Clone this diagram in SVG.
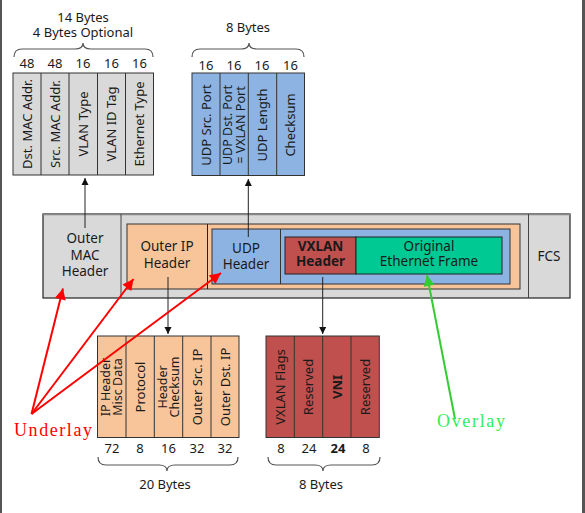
<svg xmlns="http://www.w3.org/2000/svg" width="585" height="513" viewBox="0 0 585 513">
  <style>
    text { font-family: "Noto Sans", "Open Sans", "DejaVu Sans", sans-serif; fill: #1a1a1a; }
    .lbl { font-size: 13.5px; text-anchor: middle; }
    .fld { font-size: 13px; text-anchor: middle; }
    .fld2 { font-size: 12.5px; text-anchor: middle; }
    .num { font-size: 13px; text-anchor: middle; }
    .b { font-weight: bold; }
    .cell { stroke: #333; stroke-width: 1; }
    .gray { fill: #d9d9d9; }
    .peach { fill: #f8c59a; }
    .blue { fill: #8db3e2; }
    .red { fill: #c0504d; }
    .green { fill: #00c994; }
    .brace { fill: none; stroke: #555; stroke-width: 1.2; }
    .conn { stroke: #222; stroke-width: 1; fill: none; }
    .under { stroke: #ff0000; stroke-width: 2; fill: none; }
    .over { stroke: #33cc33; stroke-width: 2; fill: none; }
    .tag { font-family: "Liberation Serif", "DejaVu Serif", serif; font-size: 18px; }
  </style>
  <defs>
    <marker id="arrBlack" viewBox="0 0 10 10" refX="10" refY="5" markerWidth="7" markerHeight="8" markerUnits="userSpaceOnUse" orient="auto">
      <path d="M0,0 L10,5 L0,10 z" fill="#111"/>
    </marker>
    <marker id="arrRed" viewBox="0 0 10 10" refX="10" refY="5" markerWidth="14" markerHeight="11" markerUnits="userSpaceOnUse" orient="auto">
      <path d="M0,0 L10,5 L0,10 z" fill="#ff0000"/>
    </marker>
    <marker id="arrGreen" viewBox="0 0 10 10" refX="10" refY="5" markerWidth="14" markerHeight="11" markerUnits="userSpaceOnUse" orient="auto">
      <path d="M0,0 L10,5 L0,10 z" fill="#33cc33"/>
    </marker>
  </defs>

  <rect width="585" height="513" fill="#fff"/>
  <!-- side borders -->
  <rect x="0" y="0" width="2" height="513" fill="#555"/>
  <rect x="582" y="0" width="3" height="513" fill="#555"/>

  <!-- encapsulated frame -->
  <g id="frame">
    <rect x="43" y="214" width="527" height="84" class="gray" stroke="#222" stroke-width="1.2"/>
    <line x1="43" y1="214.5" x2="570" y2="214.5" stroke="#888" stroke-width="1.5"/>
    <line x1="121" y1="214" x2="121" y2="298" stroke="#444" stroke-width="1"/>
    <line x1="528.5" y1="214" x2="528.5" y2="298" stroke="#444" stroke-width="1"/>
  </g>
  <g id="outer-mac-header">
    <text class="lbl" x="85" y="243">Outer</text>
    <text class="lbl" x="85" y="260">MAC</text>
    <text class="lbl" x="85" y="276">Header</text>
  </g>
  <g id="outer-ip-header">
    <rect x="127" y="224" width="393" height="65" class="peach" stroke="#333" stroke-width="1"/>
    <line x1="207.5" y1="224" x2="207.5" y2="289" stroke="#222" stroke-width="1"/>
    <text class="lbl" x="167" y="251">Outer IP</text>
    <text class="lbl" x="167" y="268">Header</text>
  </g>
  <g id="udp-header">
    <rect x="212" y="229" width="298" height="55" class="blue" stroke="#333" stroke-width="1"/>
    <line x1="280.5" y1="229" x2="280.5" y2="284" stroke="#333" stroke-width="1"/>
    <text class="lbl" x="246" y="253">UDP</text>
    <text class="lbl" x="246" y="269">Header</text>
  </g>
  <g id="vxlan-header">
    <rect x="285" y="237" width="71" height="37" class="red" stroke="#222" stroke-width="1"/>
    <text class="lbl b" x="320.5" y="251">VXLAN</text>
    <text class="lbl b" x="320.5" y="266">Header</text>
  </g>
  <g id="original-frame">
    <rect x="356" y="237" width="146" height="37" class="green" stroke="#222" stroke-width="1"/>
    <text class="lbl" x="429" y="251">Original</text>
    <text class="lbl" x="429" y="266">Ethernet Frame</text>
  </g>
  <g id="fcs">
    <text class="lbl" x="549" y="261">FCS</text>
  </g>

  <!-- outer MAC header fields -->
  <g id="mac-fields">
    <text class="num" x="83" y="22">14 Bytes</text>
    <text class="num" x="83" y="37">4 Bytes Optional</text>
    <path class="brace" d="M14,57 Q14,49 22,49 L75,49 Q83,49 83,43 Q83,49 91,49 L145,49 Q153,49 153,57"/>
    <text class="num" x="27" y="68">48</text>
    <text class="num" x="55" y="68">48</text>
    <text class="num" x="83" y="68">16</text>
    <text class="num" x="111.5" y="68">16</text>
    <text class="num" x="139.5" y="68">16</text>
    <rect x="13" y="73" width="140.5" height="102" class="gray cell"/>
    <line class="cell" x1="41" y1="73" x2="41" y2="175"/>
    <line class="cell" x1="69" y1="73" x2="69" y2="175"/>
    <line class="cell" x1="97.5" y1="73" x2="97.5" y2="175"/>
    <line class="cell" x1="125.5" y1="73" x2="125.5" y2="175"/>
    <text class="fld" transform="translate(27,124) rotate(-90)" y="4.5">Dst. MAC Addr.</text>
    <text class="fld" transform="translate(55,124) rotate(-90)" y="4.5">Src. MAC Addr.</text>
    <text class="fld" transform="translate(83,124) rotate(-90)" y="4.5">VLAN Type</text>
    <text class="fld" transform="translate(111.5,124) rotate(-90)" y="4.5">VLAN ID Tag</text>
    <text class="fld" transform="translate(139.5,124) rotate(-90)" y="4.5">Ethernet Type</text>
  </g>

  <!-- UDP header fields -->
  <g id="udp-fields">
    <text class="num" x="248" y="32">8 Bytes</text>
    <path class="brace" d="M192,57 Q192,49 200,49 L241,49 Q249,49 249,43 Q249,49 257,49 L296,49 Q304,49 304,57"/>
    <text class="num" x="206" y="70">16</text>
    <text class="num" x="234" y="70">16</text>
    <text class="num" x="262" y="70">16</text>
    <text class="num" x="290.5" y="70">16</text>
    <rect x="192" y="73" width="112.5" height="102.5" class="blue cell"/>
    <line class="cell" x1="220" y1="73" x2="220" y2="175.5"/>
    <line class="cell" x1="248.3" y1="73" x2="248.3" y2="175.5"/>
    <line class="cell" x1="276.7" y1="73" x2="276.7" y2="175.5"/>
    <text class="fld" transform="translate(206,125) rotate(-90)" y="4.5">UDP Src. Port</text>
    <text class="fld2" transform="translate(234,125) rotate(-90)"><tspan x="0" y="-2">UDP Dst. Port</tspan><tspan x="0" y="10.5">= VXLAN Port</tspan></text>
    <text class="fld" transform="translate(262,125) rotate(-90)" y="4.5">UDP Length</text>
    <text class="fld" transform="translate(290.5,125) rotate(-90)" y="4.5">Checksum</text>
  </g>

  <!-- outer IP header fields -->
  <g id="ip-fields">
    <rect x="97.5" y="336" width="141.5" height="101.5" class="peach cell"/>
    <line class="cell" x1="126" y1="336" x2="126" y2="437.5"/>
    <line class="cell" x1="154.3" y1="336" x2="154.3" y2="437.5"/>
    <line class="cell" x1="182.7" y1="336" x2="182.7" y2="437.5"/>
    <line class="cell" x1="211" y1="336" x2="211" y2="437.5"/>
    <text class="fld2" transform="translate(111.7,387) rotate(-90)"><tspan x="0" y="-2">IP Header</tspan><tspan x="0" y="10.5">Misc Data</tspan></text>
    <text class="fld" transform="translate(140,387) rotate(-90)" y="4.5">Protocol</text>
    <text class="fld2" transform="translate(168.5,387) rotate(-90)"><tspan x="0" y="-2">Header</tspan><tspan x="0" y="10.5">Checksum</tspan></text>
    <text class="fld" transform="translate(197,387) rotate(-90)" y="4.5">Outer Src. IP</text>
    <text class="fld" transform="translate(225,387) rotate(-90)" y="4.5">Outer Dst. IP</text>
    <text class="num" x="112" y="453">72</text>
    <text class="num" x="140" y="453">8</text>
    <text class="num" x="168.5" y="453">16</text>
    <text class="num" x="197" y="453">32</text>
    <text class="num" x="225" y="453">32</text>
    <path class="brace" d="M98,457 Q98,465 106,465 L159,465 Q167,465 167,471 Q167,465 175,465 L230,465 Q238,465 238,457"/>
    <text class="num" x="165" y="489">20 Bytes</text>
  </g>

  <!-- VXLAN header fields -->
  <g id="vxlan-fields">
    <rect x="266" y="336" width="113.3" height="101.5" class="red cell"/>
    <line class="cell" x1="294.3" y1="336" x2="294.3" y2="437.5"/>
    <line class="cell" x1="322.7" y1="336" x2="322.7" y2="437.5"/>
    <line class="cell" x1="351" y1="336" x2="351" y2="437.5"/>
    <text class="fld" transform="translate(280,387) rotate(-90)" y="4.5">VXLAN Flags</text>
    <text class="fld" transform="translate(308.5,387) rotate(-90)" y="4.5">Reserved</text>
    <text class="fld b" transform="translate(337,387) rotate(-90)" y="4.5">VNI</text>
    <text class="fld" transform="translate(365,387) rotate(-90)" y="4.5">Reserved</text>
    <text class="num" x="281" y="453">8</text>
    <text class="num" x="309" y="453">24</text>
    <text class="num b" x="338" y="453">24</text>
    <text class="num" x="366" y="453">8</text>
    <path class="brace" d="M268,457 Q268,465 276,465 L315,465 Q323,465 323,471 Q323,465 331,465 L372,465 Q380,465 380,457"/>
    <text class="num" x="321" y="489">8 Bytes</text>
  </g>

  <!-- connectors -->
  <g id="connectors">
    <line class="conn" x1="85" y1="228" x2="85" y2="178" marker-end="url(#arrBlack)"/>
    <line class="conn" x1="248.3" y1="237" x2="248.3" y2="179" marker-end="url(#arrBlack)"/>
    <line class="conn" x1="168" y1="277" x2="168" y2="334" marker-end="url(#arrBlack)"/>
    <line class="conn" x1="322.7" y1="277" x2="322.7" y2="334" marker-end="url(#arrBlack)"/>
    <line class="under" x1="31.5" y1="414" x2="63" y2="288.5" marker-end="url(#arrRed)"/>
    <line class="under" x1="31.5" y1="414" x2="133.5" y2="279" marker-end="url(#arrRed)"/>
    <line class="under" x1="31.5" y1="414" x2="221" y2="273" marker-end="url(#arrRed)"/>
    <line class="over" x1="455" y1="419" x2="427" y2="275" marker-end="url(#arrGreen)"/>
  </g>

  <text class="tag" x="14" y="436" textLength="78" lengthAdjust="spacing" style="fill:#ff0000">Underlay</text>
  <text class="tag" x="437" y="427" textLength="68" lengthAdjust="spacing" style="fill:#33ee55">Overlay</text>
</svg>
